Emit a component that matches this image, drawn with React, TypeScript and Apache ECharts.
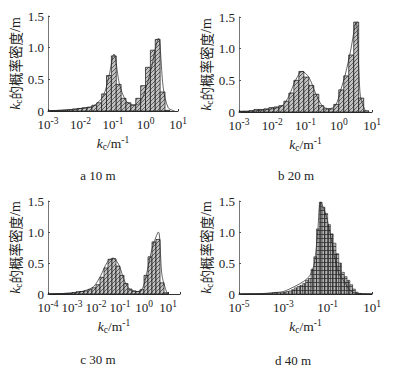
import React, { useEffect, useRef } from "react";
import * as echarts from "echarts";

// ---- data (log10 of k_c for bin edges; heights = probability density) ----
const binStartA = -3;
const binWidthA = 0.15;
const heightsA = [0.005, 0.005, 0.01, 0.015, 0.02, 0.03, 0.04, 0.05, 0.06, 0.09, 0.13, 0.27, 0.56, 0.87, 0.42, 0.2, 0.13, 0.09, 0.2, 0.4, 0.69, 0.96, 1.13, 0.3, 0.01];
const curveA = [[-3, 0.005], [-2.5, 0.015], [-2, 0.04], [-1.6, 0.08], [-1.3, 0.24], [-1.12, 0.56], [-0.97, 0.9], [-0.8, 0.42], [-0.6, 0.16], [-0.4, 0.1], [-0.25, 0.1], [-0.1, 0.2], [0.05, 0.42], [0.2, 0.72], [0.3, 0.98], [0.4, 1.15], [0.55, 0.35], [0.7, 0.05], [0.9, 0]];

const binStartB = -3;
const binWidthB = 0.15;
const heightsB = [0.01, 0.01, 0.02, 0.04, 0.04, 0.05, 0.07, 0.08, 0.1, 0.17, 0.3, 0.5, 0.64, 0.55, 0.42, 0.28, 0.1, 0.05, 0.05, 0.12, 0.35, 0.57, 0.9, 1.42, 0.22, 0.02];
const curveB = [[-3, 0.01], [-2.5, 0.02], [-2, 0.05], [-1.7, 0.1], [-1.5, 0.25], [-1.3, 0.5], [-1.1, 0.64], [-0.9, 0.55], [-0.7, 0.3], [-0.5, 0.1], [-0.3, 0.05], [-0.1, 0.1], [0.05, 0.33], [0.2, 0.6], [0.35, 0.95], [0.52, 1.42], [0.65, 0.25], [0.8, 0.02]];

const binStartC = -4;
const binWidthC = 1 / 6;
const heightsC = [0.002, 0.003, 0.005, 0.005, 0.01, 0.01, 0.02, 0.035, 0.04, 0.05, 0.07, 0.1, 0.15, 0.27, 0.42, 0.56, 0.57, 0.45, 0.3, 0.17, 0.08, 0.05, 0.04, 0.07, 0.3, 0.6, 0.84, 0.88, 0.18, 0.02];
const curveC = [[-4, 0.002], [-3.5, 0.005], [-3, 0.02], [-2.5, 0.05], [-2.1, 0.12], [-1.8, 0.3], [-1.55, 0.5], [-1.3, 0.58], [-1.05, 0.47], [-0.8, 0.2], [-0.55, 0.06], [-0.25, 0.04], [-0.05, 0.1], [0.15, 0.4], [0.35, 0.75], [0.6, 1.0], [0.75, 0.3], [0.95, 0.02]];

const binStartD = -5;
const binWidthD = 0.125;
const heightsD = [0.003, 0.003, 0.004, 0.004, 0.005, 0.005, 0.006, 0.006, 0.008, 0.008, 0.01, 0.01, 0.02, 0.025, 0.02, 0.02, 0.03, 0.04, 0.05, 0.07, 0.1, 0.12, 0.14, 0.17, 0.22, 0.25, 0.4, 0.6, 1.05, 1.48, 1.4, 1.3, 1.12, 0.97, 0.82, 0.65, 0.5, 0.35, 0.28, 0.22, 0.15, 0.08, 0.03, 0.01, 0.005, 0.003, 0.002, 0.002];
const curveD = [[-5, 0.003], [-4, 0.006], [-3.5, 0.02], [-3, 0.04], [-2.5, 0.12], [-2.1, 0.2], [-1.8, 0.3], [-1.6, 0.5], [-1.45, 1.0], [-1.32, 1.48], [-1.1, 1.3], [-0.9, 1.0], [-0.7, 0.62], [-0.5, 0.33], [-0.25, 0.2], [0, 0.06], [0.3, 0.01], [1, 0.002]];

const xTickLabels: Record<string, string> = { "-5": "-5", "-4": "-4", "-3": "-3", "-2": "-2", "-1": "-1", "0": "0", "1": "1" };
const captions = ["a 10 m", "b 20 m", "c 30 m", "d 40 m"];

const SERIF = "Liberation Serif";
const CJK = "Noto Sans CJK SC";

function makePattern(dense: boolean) {
  const c = document.createElement("canvas");
  const s = 4;
  c.width = s;
  c.height = s;
  const ctx = c.getContext("2d")!;
  ctx.fillStyle = dense ? "#b4b4b4" : "#c2c2c2";
  ctx.fillRect(0, 0, s, s);
  ctx.strokeStyle = dense ? "#333" : "#444";
  ctx.lineWidth = 0.8;
  ctx.beginPath();
  if (dense) {
    ctx.moveTo(0.5, 0);
    ctx.lineTo(0.5, s);
    ctx.moveTo(0, 2.5);
    ctx.lineTo(s, 2.5);
  } else {
    ctx.moveTo(0, s);
    ctx.lineTo(s, 0);
    ctx.moveTo(-1, 1);
    ctx.lineTo(1, -1);
    ctx.moveTo(s - 1, s + 1);
    ctx.lineTo(s + 1, s - 1);
  }
  ctx.stroke();
  return c;
}

function bins(start: number, width: number, heights: number[]) {
  return heights.map((h, i) => [start + i * width, start + (i + 1) * width, h]);
}

export default function App() {
  const ref = useRef<HTMLDivElement>(null);
  useEffect(() => {
    if (!ref.current) return;
    const chart = echarts.init(ref.current, undefined, { renderer: "svg" });
    const hatch = makePattern(false);
    const dense = makePattern(true);

    const grids = [
      { left: 48, top: 16, width: 130, height: 95 },
      { left: 239, top: 17, width: 133, height: 95 },
      { left: 48, top: 201, width: 132, height: 93 },
      { left: 239, top: 201, width: 133, height: 93 },
    ];
    const xr = [
      { min: -3, max: 1, interval: 1 },
      { min: -3, max: 1, interval: 1 },
      { min: -4, max: 1.5, interval: 1 },
      { min: -5, max: 1, interval: 2 },
    ];
    const datasets = [
      { d: bins(binStartA, binWidthA, heightsA), c: curveA, p: hatch, bw: 0.7 },
      { d: bins(binStartB, binWidthB, heightsB), c: curveB, p: hatch, bw: 0.7 },
      { d: bins(binStartC, binWidthC, heightsC), c: curveC, p: hatch, bw: 0.7 },
      { d: bins(binStartD, binWidthD, heightsD), c: curveD, p: dense, bw: 0.5 },
    ];

    const tickRich = {
      b: { fontSize: 13, fontFamily: SERIF, color: "#222", lineHeight: 17 },
      s: { fontSize: 9.5, fontFamily: SERIF, color: "#222", verticalAlign: "top", lineHeight: 9 },
    };
    const nameRichX = {
      i: { fontSize: 13.5, fontFamily: SERIF, fontStyle: "italic", color: "#222", lineHeight: 17 },
      sub: { fontSize: 9.5, fontFamily: SERIF, color: "#222", verticalAlign: "bottom", lineHeight: 11 },
      n: { fontSize: 13.5, fontFamily: SERIF, color: "#222", lineHeight: 17 },
      sup: { fontSize: 9.5, fontFamily: SERIF, color: "#222", verticalAlign: "top", lineHeight: 9 },
    };
    const nameRichY = {
      i: { fontSize: 14, fontFamily: SERIF, fontStyle: "italic", color: "#222", lineHeight: 17 },
      sub: { fontSize: 9.5, fontFamily: SERIF, color: "#222", verticalAlign: "bottom", lineHeight: 11 },
      n: { fontSize: 13.5, fontFamily: CJK, color: "#222", lineHeight: 17 },
      m: { fontSize: 14, fontFamily: SERIF, color: "#222", lineHeight: 17 },
    };

    const option: any = {
      animation: false,
      textStyle: { fontFamily: SERIF },
      grid: grids,
      xAxis: xr.map((r, i) => ({
        gridIndex: i,
        type: "value",
        min: r.min,
        max: r.max,
        interval: r.interval,
        splitLine: { show: false },
        axisLine: { show: true, onZero: false, lineStyle: { color: "#333", width: 1 } },
        axisTick: { show: true, inside: true, length: 2, lineStyle: { color: "#333" } },
        axisLabel: {
          margin: 5,
          fontFamily: SERIF,
          formatter: (v: number) => {
            const k = String(v);
            if (!(k in xTickLabels)) return "";
            return `{b|10}{s|${xTickLabels[k]}}`;
          },
          rich: tickRich,
        },
        name: "{i|k}{sub|c}{n|/m}{sup|-1}",
        nameLocation: "middle",
        nameGap: 24,
        nameTextStyle: { fontFamily: SERIF, rich: nameRichX },
      })),
      yAxis: grids.map((_, i) => ({
        gridIndex: i,
        type: "value",
        min: 0,
        max: 1.5,
        interval: 0.5,
        splitLine: { show: false },
        axisLine: { show: true, onZero: false, lineStyle: { color: "#777", width: 1 } },
        axisTick: { show: true, inside: true, length: 2, lineStyle: { color: "#555" } },
        axisLabel: {
          margin: 4,
          fontSize: 13,
          fontFamily: SERIF,
          color: "#222",
          formatter: (v: number) => (v === 0 ? "0" : v.toFixed(1)),
        },
        name: "{i|k}{sub|c}{n|的概率密度}{m|/m}",
        nameLocation: "middle",
        nameRotate: 90,
        nameGap: 21,
        nameTextStyle: { fontFamily: SERIF, rich: nameRichY },
      })),
      series: datasets.flatMap((ds, i) => [
        {
          type: "custom",
          xAxisIndex: i,
          yAxisIndex: i,
          data: ds.d,
          encode: { x: [0, 1], y: 2 },
          renderItem: (params: any, api: any) => {
            const p0 = api.coord([api.value(0), api.value(2)]);
            const p1 = api.coord([api.value(1), 0]);
            return {
              type: "rect",
              shape: { x: p0[0], y: p0[1], width: p1[0] - p0[0], height: p1[1] - p0[1] },
              style: { fill: { image: ds.p, repeat: "repeat" }, stroke: "#111", lineWidth: ds.bw },
            };
          },
        },
        {
          type: "line",
          xAxisIndex: i,
          yAxisIndex: i,
          data: ds.c,
          smooth: 0.3,
          showSymbol: false,
          z: 5,
          lineStyle: { color: "#222", width: 0.7 },
        },
      ]),
      graphic: [
        { x: 98, y: 175 },
        { x: 296, y: 175 },
        { x: 98, y: 359 },
        { x: 293, y: 360 },
      ].map((p, i) => ({
        type: "text",
        x: p.x,
        y: p.y,
        style: {
          text: captions[i],
          textAlign: "center",
          textVerticalAlign: "middle",
          font: `13px ${SERIF}`,
          fill: "#222",
        },
      })),
    };
    chart.setOption(option);
    return () => chart.dispose();
  }, []);
  return (
    <div
      ref={ref}
      style={{ position: "fixed", left: 0, top: 0, width: 398, height: 371, background: "#fff" }}
    />
  );
}
